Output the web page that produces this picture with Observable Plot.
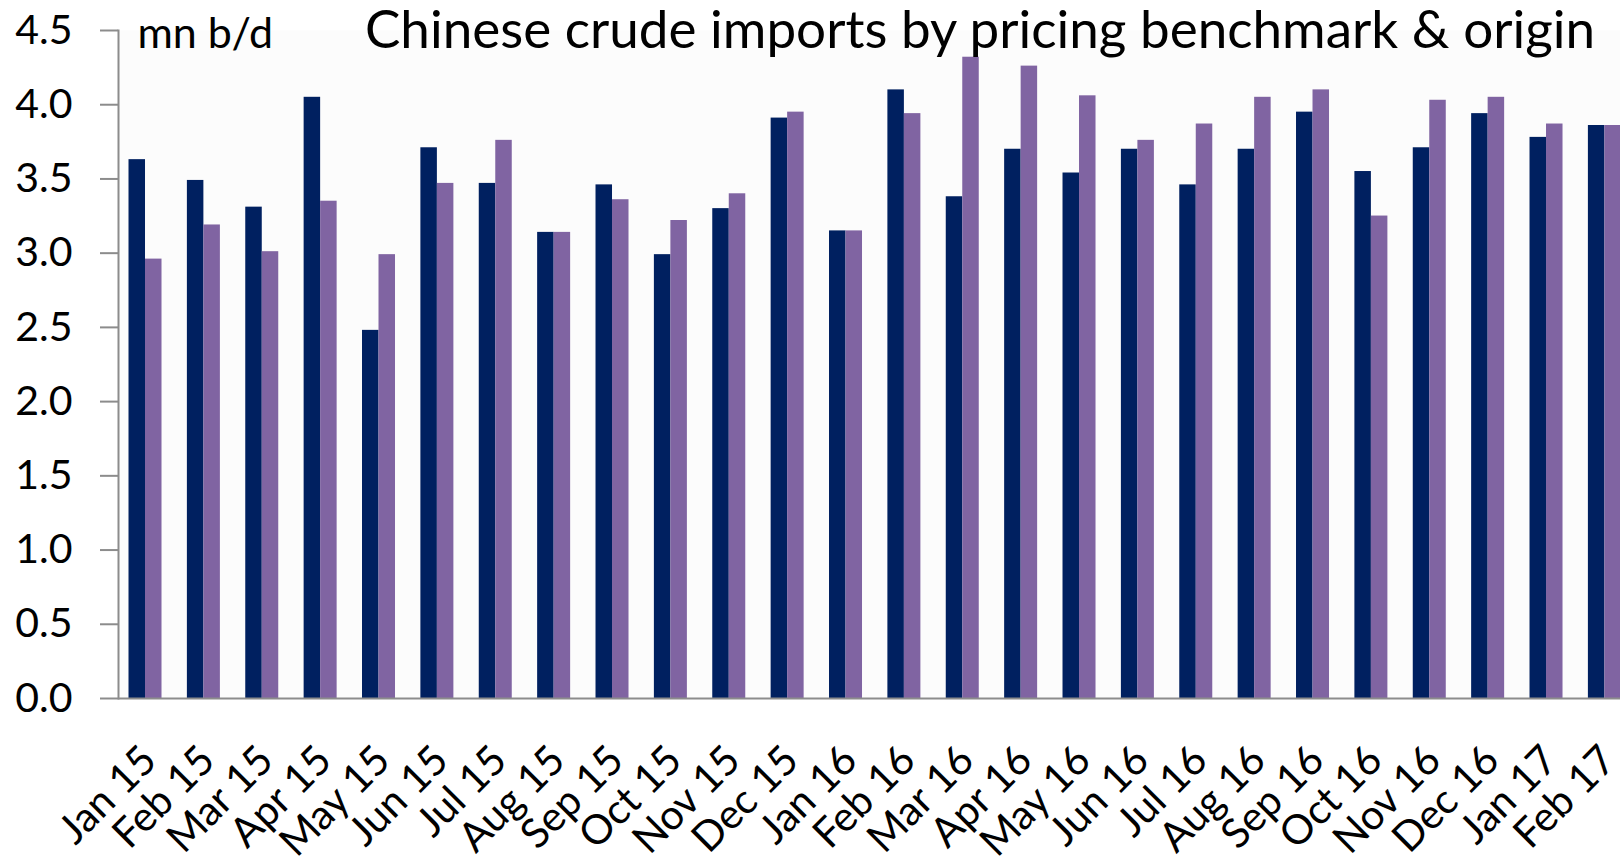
<!DOCTYPE html>
<html>
<head>
<meta charset="utf-8">
<script src="https://cdn.jsdelivr.net/npm/d3@7"></script>
<script src="https://cdn.jsdelivr.net/npm/@observablehq/plot@0.6"></script>
<style>
  html, body { margin: 0; padding: 0; background: #fff; overflow: hidden; }
  #chart svg { overflow: hidden; display: block; }
</style>
</head>
<body>
<div id="chart"></div>
<script>
const months = ["Jan 15","Feb 15","Mar 15","Apr 15","May 15","Jun 15","Jul 15","Aug 15","Sep 15","Oct 15","Nov 15","Dec 15",
                "Jan 16","Feb 16","Mar 16","Apr 16","May 16","Jun 16","Jul 16","Aug 16","Sep 16","Oct 16","Nov 16","Dec 16",
                "Jan 17","Feb 17"];
const series1 = [3.63,3.49,3.31,4.05,2.48,3.71,3.47,3.14,3.46,2.99,3.30,3.91,
                 3.15,4.10,3.38,3.70,3.54,3.70,3.46,3.70,3.95,3.55,3.71,3.94,
                 3.78,3.86];
const series2 = [2.96,3.19,3.01,3.35,2.99,3.47,3.76,3.14,3.36,3.22,3.40,3.95,
                 3.15,3.94,4.32,4.26,4.06,3.76,3.87,4.05,4.10,3.25,4.03,4.05,
                 3.87,3.86];
const yTicks = [0,0.5,1,1.5,2,2.5,3,3.5,4,4.5];
const titleText = "Chinese crude imports by pricing benchmark & origin";
const unitText = "mn b/d";

const rows = months.map((m, i) => ({month: m, s1: series1[i], s2: series2[i]}));

const navy = "#002060";
const purple = "#8064a2";
const axisGray = "#8c8c8c";
const font = "Lato";

const chart = Plot.plot({
  width: 1620,
  height: 865,
  marginLeft: 118,
  marginRight: -11.4,
  marginTop: 30,
  marginBottom: 167,
  style: {fontFamily: font, background: "#fff", color: "#000"},
  x: {type: "band", domain: months, paddingInner: 0.4347, paddingOuter: 0.18, round: false, axis: null},
  y: {domain: [0, 4.5], axis: null},
  marks: [
    Plot.frame({fill: "#fcfcfc", stroke: null}),
    Plot.barY(rows, {x: "month", y: "s1", fill: navy, insetRight: 16.5}),
    Plot.barY(rows, {x: "month", y: "s2", fill: purple, insetLeft: 16.5}),
    Plot.axisY({ticks: yTicks, tickFormat: d3.format(".1f"), tickSize: 18, tickPadding: 28,
                fontSize: 41, stroke: axisGray, strokeWidth: 2, fill: "#000"}),
    Plot.frame({anchor: "left", stroke: axisGray, strokeWidth: 2}),
    Plot.ruleY([0], {stroke: axisGray, strokeWidth: 2}),
    Plot.text(months, {x: d => d, frameAnchor: "bottom", rotate: -45, textAnchor: "end",
                       lineAnchor: "middle", dx: 4, dy: 55, fontSize: 41, fill: "#000"}),
    Plot.text([unitText], {frameAnchor: "top-left", text: d => d, textAnchor: "start",
                           lineAnchor: "bottom", dx: 19, dy: 17, fontSize: 43, fill: "#000"}),
    Plot.text([titleText], {frameAnchor: "top-left", text: d => d, textAnchor: "middle",
                            lineAnchor: "bottom", dx: 861.5, dy: 17, fontSize: 53, fill: "#000"})
  ]
});
document.getElementById("chart").appendChild(chart);
</script>
</body>
</html>
